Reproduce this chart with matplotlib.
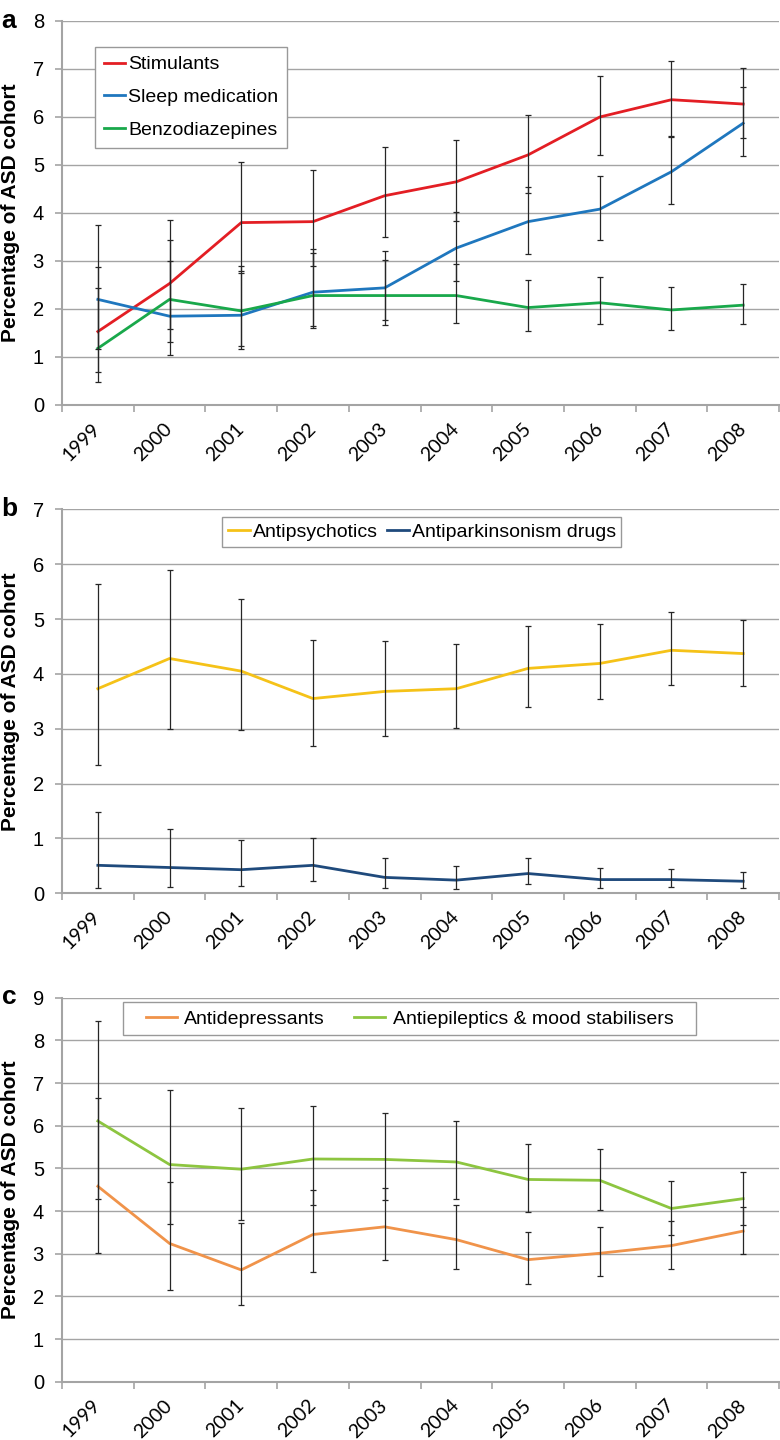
import matplotlib
matplotlib.use('Agg')
import matplotlib.pyplot as plt
import numpy as np
from matplotlib.patches import Rectangle

years = ['1999', '2000', '2001', '2002', '2003', '2004', '2005', '2006', '2007', '2008']

# Panel a
stimulants = [1.53, 2.53, 3.80, 3.82, 4.36, 4.65, 5.21, 6.00, 6.36, 6.27]
stimulants_lo = [0.68, 1.58, 2.80, 2.90, 3.49, 3.83, 4.41, 5.21, 5.58, 5.56]
stimulants_hi = [3.76, 3.85, 5.07, 4.90, 5.38, 5.53, 6.05, 6.85, 7.17, 7.03]
sleep = [2.20, 1.85, 1.87, 2.35, 2.44, 3.27, 3.82, 4.08, 4.86, 5.87]
sleep_lo = [1.17, 1.04, 1.17, 1.65, 1.78, 2.58, 3.15, 3.44, 4.19, 5.19]
sleep_hi = [2.88, 3.00, 2.90, 3.24, 3.21, 4.03, 4.55, 4.78, 5.61, 6.62]
benzo = [1.18, 2.20, 1.96, 2.28, 2.28, 2.28, 2.03, 2.13, 1.98, 2.08]
benzo_lo = [0.48, 1.31, 1.23, 1.60, 1.67, 1.71, 1.55, 1.69, 1.56, 1.69]
benzo_hi = [2.43, 3.44, 2.76, 3.16, 3.03, 2.94, 2.60, 2.67, 2.45, 2.53]

# Panel b
antipsych = [3.73, 4.28, 4.05, 3.55, 3.68, 3.73, 4.10, 4.19, 4.43, 4.37]
antipsych_lo = [2.33, 3.00, 2.98, 2.69, 2.87, 3.01, 3.40, 3.54, 3.80, 3.77]
antipsych_hi = [5.64, 5.89, 5.36, 4.61, 4.60, 4.54, 4.88, 4.91, 5.12, 4.99]
antipark = [0.51, 0.47, 0.43, 0.51, 0.29, 0.24, 0.36, 0.25, 0.25, 0.22]
antipark_lo = [0.10, 0.12, 0.13, 0.22, 0.10, 0.07, 0.17, 0.10, 0.12, 0.10]
antipark_hi = [1.48, 1.17, 0.98, 1.00, 0.64, 0.49, 0.64, 0.46, 0.44, 0.39]

# Panel c
antidep = [4.58, 3.24, 2.62, 3.45, 3.63, 3.33, 2.86, 3.01, 3.19, 3.53]
antidep_lo = [3.01, 2.15, 1.80, 2.58, 2.85, 2.65, 2.30, 2.47, 2.65, 2.99]
antidep_hi = [6.66, 4.68, 3.71, 4.49, 4.54, 4.13, 3.51, 3.63, 3.76, 4.10]
antiepi = [6.11, 5.09, 4.98, 5.22, 5.21, 5.15, 4.74, 4.72, 4.06, 4.29]
antiepi_lo = [4.28, 3.69, 3.79, 4.15, 4.27, 4.29, 3.98, 4.02, 3.44, 3.68]
antiepi_hi = [8.45, 6.83, 6.42, 6.46, 6.30, 6.10, 5.57, 5.46, 4.71, 4.92]

plt.rcParams['font.family'] = ['Liberation Sans', 'DejaVu Sans']

GRID = '#A4A4A4'

fig = plt.figure(figsize=(7.8, 14.4), dpi=100)


def style_axes(ax, ymax):
    ax.set_xlim(-0.5, 9.5)
    ax.set_ylim(0, ymax)
    ax.set_yticks(range(ymax + 1))
    ax.grid(axis='y', color=GRID, lw=1.0)
    ax.set_axisbelow(True)
    for s in ['top', 'right']:
        ax.spines[s].set_visible(False)
    for s in ['left', 'bottom']:
        ax.spines[s].set_color(GRID)
        ax.spines[s].set_linewidth(1.5)
    ax.set_xticks(range(10))
    ax.set_xticklabels(years, rotation=45, ha='right', va='center',
                       rotation_mode='anchor', fontfamily='Lato', fontsize=14)
    ax.set_xticks(np.arange(-0.5, 10.0, 1.0), minor=True)
    ax.tick_params(axis='x', which='major', length=0, pad=15)
    ax.tick_params(axis='x', which='minor', length=5, color=GRID, width=1.2)
    ax.tick_params(axis='y', length=5, color=GRID, width=1.2, labelsize=14.5, pad=8)
    ax.set_ylabel('Percentage of ASD cohort', fontweight='bold', fontsize=15)
    ax.yaxis.set_label_coords(-0.058, 0.5)


def series(ax, vals, lo, hi, color, label):
    x = np.arange(len(vals))
    ax.plot(x, vals, color=color, lw=2.0, label=label, zorder=3)
    yerr = [np.array(vals) - np.array(lo), np.array(hi) - np.array(vals)]
    ax.errorbar(x, vals, yerr=yerr, fmt='none', ecolor='#262626',
                elinewidth=0.9, capsize=2.2, capthick=0.9, zorder=4)


L, W, H = 62 / 780, 717 / 780, 384 / 1440

# Panel a
axa = fig.add_axes([L, 1 - 405 / 1440, W, H])
style_axes(axa, 8)
series(axa, stimulants, stimulants_lo, stimulants_hi, '#E31E24', 'Stimulants')
series(axa, sleep, sleep_lo, sleep_hi, '#1F77BE', 'Sleep medication')
series(axa, benzo, benzo_lo, benzo_hi, '#19A84B', 'Benzodiazepines')
handles, labels = axa.get_legend_handles_labels()
leg = axa.legend(handles, labels, loc='upper left', bbox_to_anchor=(0.046, 0.932),
                 borderaxespad=0, fontsize=14, handlelength=1.1, handletextpad=0.15,
                 borderpad=0.45, labelspacing=0.78, fancybox=False, framealpha=1)
leg.get_frame().set_edgecolor('#999999')
leg.get_frame().set_linewidth(1.0)
fig.text(0.002, 1 - 21 / 1440, 'a', fontsize=19, fontweight='bold', va='center', ha='left')

# Panel b
axb = fig.add_axes([L, 1 - 893.3 / 1440, W, H])
style_axes(axb, 7)
series(axb, antipsych, antipsych_lo, antipsych_hi, '#F5C218', 'Antipsychotics')
series(axb, antipark, antipark_lo, antipark_hi, '#1F4A7C', 'Antiparkinsonism drugs')
handles, labels = axb.get_legend_handles_labels()
leg = axb.legend(handles, labels, loc='center', bbox_to_anchor=(0.502, 0.941), ncol=2,
                 borderaxespad=0, fontsize=14, handlelength=1.1, handletextpad=0.15,
                 borderpad=0.3, columnspacing=0.5, fancybox=False, framealpha=1)
leg.get_frame().set_edgecolor('#999999')
leg.get_frame().set_linewidth(1.0)
fig.text(0.002, 1 - 509 / 1440, 'b', fontsize=19, fontweight='bold', va='center', ha='left')

# Panel c
axc = fig.add_axes([L, 1 - 1381.7 / 1440, W, H])
style_axes(axc, 9)
series(axc, antidep, antidep_lo, antidep_hi, '#F0934A', 'Antidepressants')
series(axc, antiepi, antiepi_lo, antiepi_hi, '#8DC540', 'Antiepileptics & mood stabilisers')
handles, labels = axc.get_legend_handles_labels()
leg = axc.legend(handles, labels, loc='center', bbox_to_anchor=(0.485, 0.945), ncol=2,
                 borderaxespad=0, fontsize=14, handlelength=1.6, handletextpad=0.4,
                 borderpad=0.3, columnspacing=1.5, frameon=False)
axc.add_patch(Rectangle((0.085, 0.902), 0.799, 0.086, transform=axc.transAxes,
                        facecolor='white', edgecolor='#999999', lw=1.0, zorder=5))
leg.set_zorder(6)
fig.text(0.002, 1 - 997 / 1440, 'c', fontsize=19, fontweight='bold', va='center', ha='left')

fig.savefig('out.png', dpi=100)
